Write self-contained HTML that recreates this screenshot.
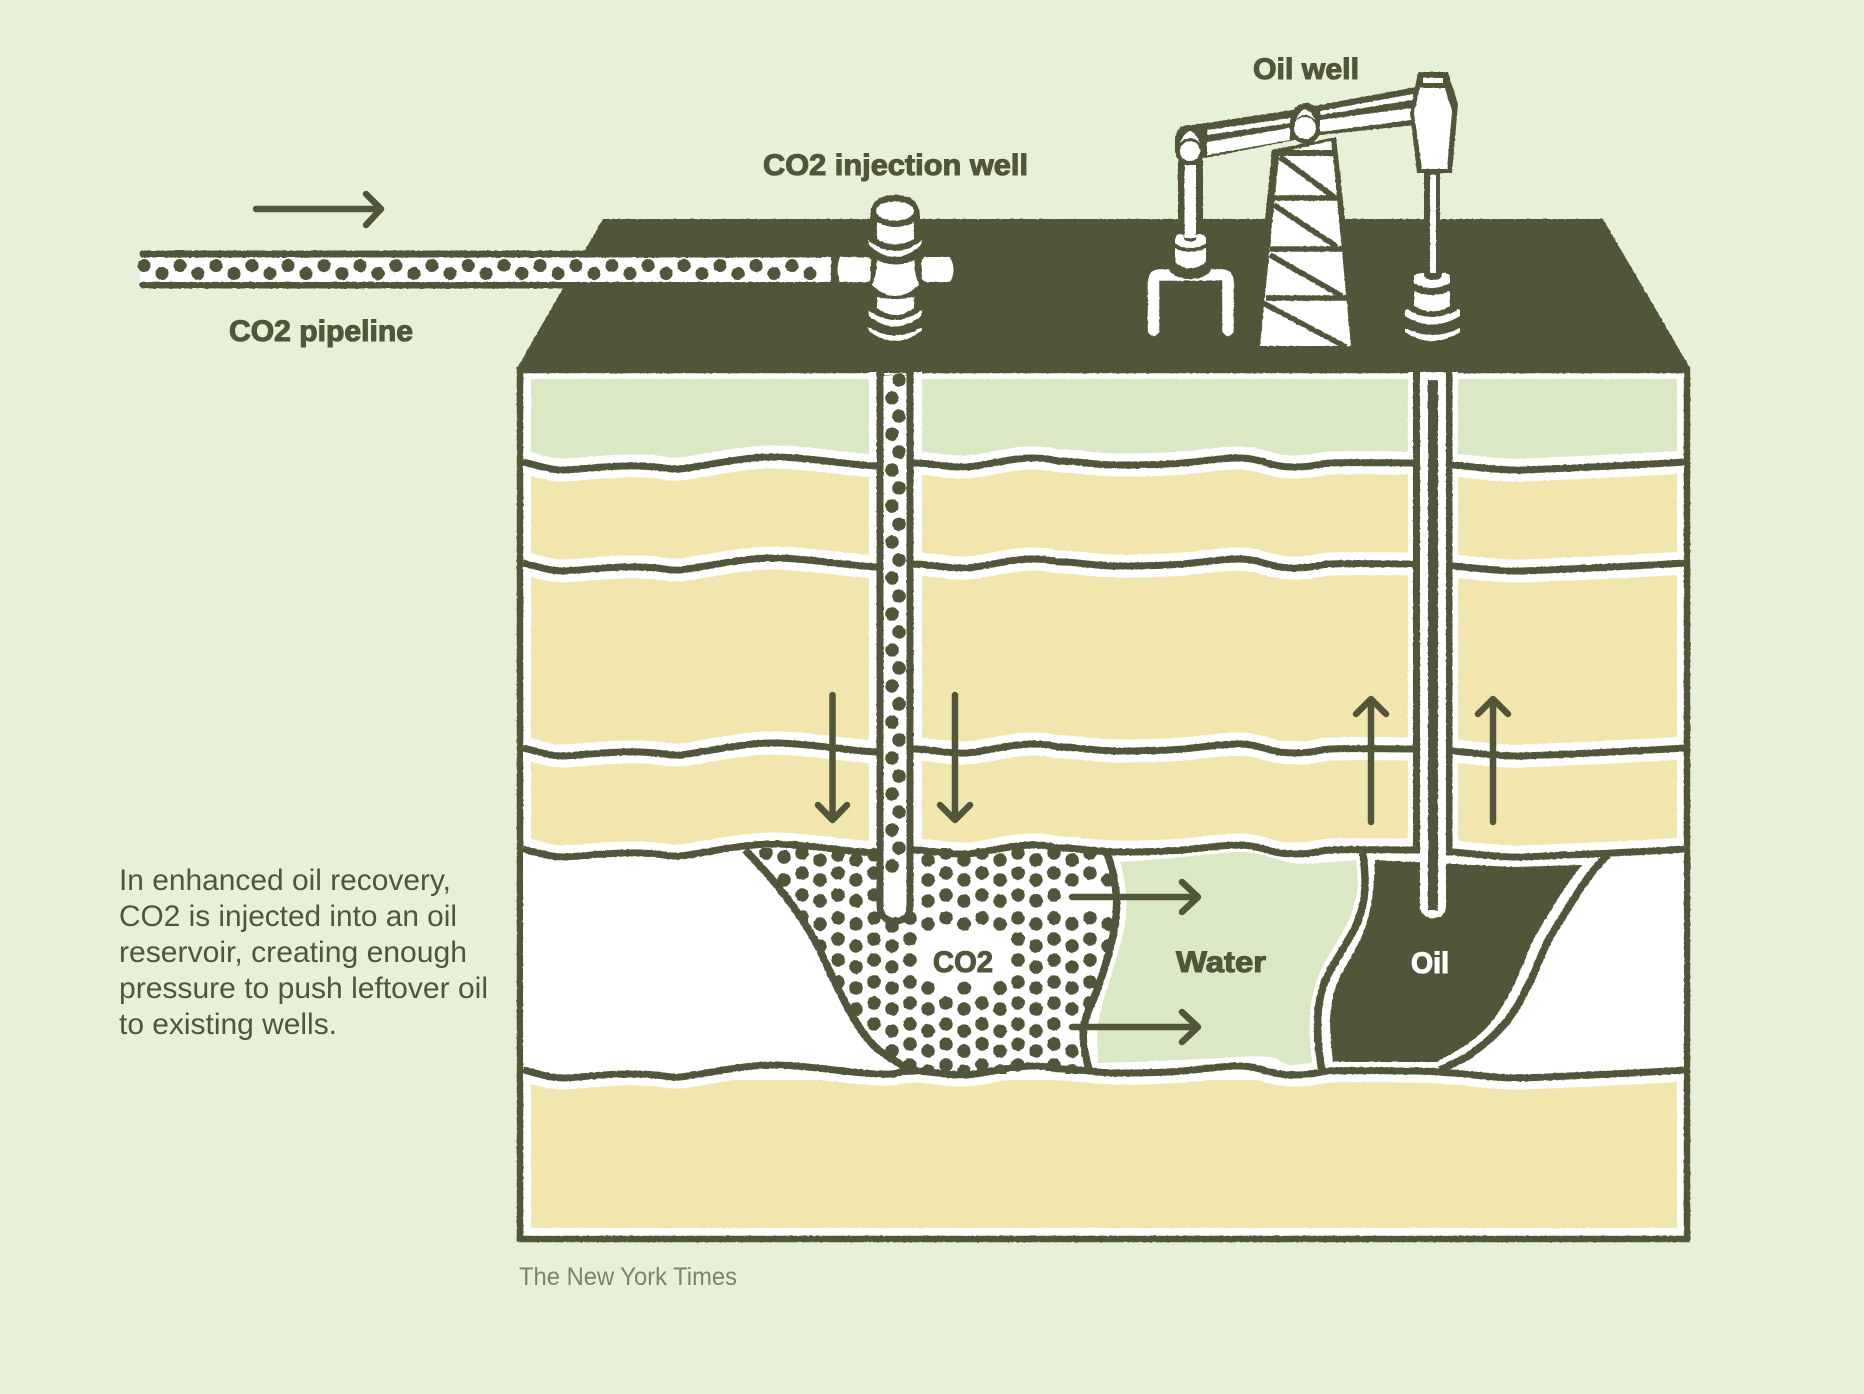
<!DOCTYPE html>
<html><head><meta charset="utf-8"><style>
html,body{margin:0;padding:0;background:#e7f1da}
svg{display:block}
text{font-family:"Liberation Sans",sans-serif}
.b{font-weight:bold;fill:#51563b;stroke:#51563b;stroke-width:1.1}
.t{font-size:30px;fill:#51563b}
</style></head><body>
<svg xmlns="http://www.w3.org/2000/svg" width="1864" height="1394" viewBox="0 0 1864 1394">
<defs>
<filter id="r" filterUnits="userSpaceOnUse" x="0" y="0" width="1864" height="1394">
<feTurbulence type="fractalNoise" baseFrequency=".3" numOctaves="2" seed="4"/>
<feDisplacementMap in="SourceGraphic" scale="1.8" xChannelSelector="R" yChannelSelector="G"/>
</filter>
<path id="w" d="M523 462C540 466 550 470 563 470S610 465 640 466S665 470 680 469S740 457 773 457S850 465 877 466S895 463 913 463S950 468 967 467S1010 458 1032 458S1050 461 1063 461S1095 465 1117 465S1160 465 1183 463S1220 458 1240 458S1270 467 1293 467S1315 464 1330 463S1390 463 1413 463S1435 464 1452 465S1500 471 1523 470S1640 465 1684 462"/>
<clipPath id="box"><rect x="523" y="372" width="1161" height="864"/></clipPath>
<clipPath id="co2"><path d="M745 848C770 875 790 900 807 927S830 977 853 1017S890 1055 912 1074L1090 1074C1082 1045 1082 1030 1090 1007S1110 950 1115 925S1115 875 1107 848Z"/></clipPath>
</defs>
<rect width="1864" height="1394" fill="#e7f1da"/>
<g filter="url(#r)">
<polygon points="603,219 1603,219 1690,368 1690,376 517,376 517,368" fill="#51563b"/>
<rect x="520" y="370" width="1167" height="869" fill="#fff" stroke="#51563b" stroke-width="6.5"/>
<rect x="520" y="368" width="1167" height="4.5" fill="#51563b"/>
<rect x="531" y="379" width="1146" height="849" fill="#f2e6af"/>
<path d="M531 379H1677V470H531Z" fill="#dbe8c5"/>
<g clip-path="url(#box)">
<path d="M523 849C540 853 550 857 563 857S610 852 640 853S665 857 680 856S740 844 773 844S850 852 877 853S895 850 913 850S950 855 967 854S1010 845 1032 845S1050 848 1063 848S1095 852 1117 852S1160 852 1183 850S1220 845 1240 845S1270 854 1293 854S1315 851 1330 850S1390 850 1413 850S1435 851 1452 852S1500 858 1523 857S1640 852 1684 849V1080H523Z" fill="#fff"/>
<g fill="none" stroke="#fff" stroke-width="23">
<use href="#w"/><use href="#w" y="101"/><use href="#w" y="286"/><use href="#w" y="387"/><use href="#w" y="608"/>
</g>
</g>
<rect x="869" y="372" width="53" height="480" fill="#fff"/>
<rect x="1408" y="372" width="50" height="485" fill="#fff"/>
<path d="M1120 862C1127 885 1128 905 1125 925C1120 950 1105 990 1097 1027L1098 1063C1140 1062 1180 1060 1237 1057S1270 1063 1293 1065L1312 1063C1308 1030 1308 995 1322 968C1340 935 1357 915 1358 880L1356 860C1330 862 1310 865 1293 863S1260 851 1237 852S1160 860 1120 862Z" fill="#dbe8c5"/>
<path d="M1375 860L1513 867L1582 865C1565 885 1548 915 1533 940C1522 965 1515 990 1493 1020C1478 1040 1455 1052 1437 1062L1333 1062C1330 1035 1327 1010 1337 983C1345 965 1360 945 1366 925C1372 905 1374 890 1375 860Z" fill="#51563b"/>
<g clip-path="url(#co2)">
<path fill="none" stroke="#51563b" stroke-width="13.5" stroke-linecap="round" d="M766 853h.01M784 857h.01M784 880h.01M802 853h.01M802 873h.01M802 895h.01M802 917h.01M820 860h.01M820 880h.01M820 901h.01M820 924h.01M820 946h.01M838 855h.01M838 873h.01M838 895h.01M838 918h.01M838 939h.01M838 960h.01M838 982h.01M856 860h.01M856 880h.01M856 901h.01M856 924h.01M856 946h.01M856 967h.01M856 988h.01M856 1009h.01M874 855h.01M874 873h.01M874 895h.01M874 918h.01M874 939h.01M874 960h.01M874 982h.01M874 1003h.01M874 1024h.01M892 926h.01M892 946h.01M892 967h.01M892 988h.01M892 1009h.01M892 1031h.01M892 1051h.01M910 918h.01M910 939h.01M910 960h.01M910 982h.01M910 1003h.01M910 1024h.01M910 1044h.01M910 1065h.01M928 860h.01M928 880h.01M928 901h.01M928 924h.01M928 988h.01M928 1009h.01M928 1031h.01M928 1051h.01M928 1071h.01M946 853h.01M946 873h.01M946 895h.01M946 918h.01M946 1003h.01M946 1024h.01M946 1044h.01M946 1065h.01M964 860h.01M964 880h.01M964 901h.01M964 924h.01M964 988h.01M964 1009h.01M964 1031h.01M964 1051h.01M964 1071h.01M982 853h.01M982 873h.01M982 895h.01M982 918h.01M982 1003h.01M982 1024h.01M982 1044h.01M982 1065h.01M1000 860h.01M1000 880h.01M1000 901h.01M1000 924h.01M1000 988h.01M1000 1009h.01M1000 1031h.01M1000 1051h.01M1000 1071h.01M1018 853h.01M1018 873h.01M1018 895h.01M1018 918h.01M1018 939h.01M1018 960h.01M1018 982h.01M1018 1003h.01M1018 1024h.01M1018 1044h.01M1018 1065h.01M1036 860h.01M1036 880h.01M1036 901h.01M1036 924h.01M1036 946h.01M1036 967h.01M1036 988h.01M1036 1009h.01M1036 1031h.01M1036 1051h.01M1054 853h.01M1054 873h.01M1054 895h.01M1054 918h.01M1054 939h.01M1054 960h.01M1054 982h.01M1054 1003h.01M1054 1024h.01M1054 1044h.01M1054 1065h.01M1072 860h.01M1072 880h.01M1072 924h.01M1072 946h.01M1072 967h.01M1072 988h.01M1072 1009h.01M1072 1051h.01M1072 1071h.01M1090 853h.01M1090 873h.01M1090 918h.01M1090 939h.01M1090 960h.01M1090 982h.01M1090 1003h.01M1108 880h.01M1108 924h.01M1108 946h.01"/>
</g>
<g fill="none" stroke="#51563b" stroke-width="7">
<use href="#w"/><use href="#w" y="101"/><use href="#w" y="286"/><use href="#w" y="387"/><use href="#w" y="608"/>
<path stroke-width="7.5" d="M745 850C770 875 790 900 807 927S830 977 853 1017S890 1055 912 1072"/>
<path stroke-width="7.5" d="M1107 853C1115 875 1119 900 1115 925S1100 985 1090 1007S1082 1045 1090 1073"/>
<path stroke-width="7.5" d="M1363 853C1366 880 1367 900 1357 923C1350 940 1335 960 1327 977C1316 1000 1315 1030 1322 1072"/>
<path stroke-width="7.5" d="M1608 855C1590 870 1570 905 1550 937C1540 955 1535 975 1527 987C1510 1025 1490 1040 1467 1057L1440 1070"/>
</g>
<!-- injection tube -->
<path d="M880 372V905Q880 921 895 921Q910 921 910 905V372Z" fill="#fff" stroke="#51563b" stroke-width="7"/>
<rect x="884" y="373" width="22" height="2" fill="#fff"/>
<path d="M899 380V884" stroke="#51563b" stroke-width="13.5" stroke-linecap="round" stroke-dasharray="0 36" fill="none"/>
<path d="M892 398V902" stroke="#51563b" stroke-width="13.5" stroke-linecap="round" stroke-dasharray="0 36" fill="none"/>
<!-- oil tube -->
<rect x="1413" y="372" width="7" height="481" fill="#51563b"/>
<rect x="1446" y="372" width="6.5" height="481" fill="#51563b"/>
<path d="M1420 372H1446V905Q1446 918 1433 918Q1420 918 1420 905Z" fill="#fff"/>
<path d="M1428 380H1438V910H1428Z" fill="#51563b"/>
<!-- pipeline -->
<path d="M143 254H810M143 285H810" stroke="#51563b" stroke-width="7" stroke-linecap="round" fill="none"/>
<rect x="140" y="257.5" width="691" height="24.5" fill="#fff"/>
<path d="M144 265.5H812" stroke="#51563b" stroke-width="13" stroke-linecap="round" stroke-dasharray="0 36" fill="none"/>
<path d="M162 273.5H812" stroke="#51563b" stroke-width="13" stroke-linecap="round" stroke-dasharray="0 36" fill="none"/>
<!-- injection wellhead -->
<path d="M870 218Q870 195 895 195Q920 195 920 218V240H870Z" fill="#51563b"/>
<ellipse cx="895" cy="211" rx="19" ry="9.5" fill="#fff"/>
<path d="M877 222Q895 232 914 222V239Q895 250 877 239Z" fill="#fff"/>
<path d="M868 240Q895 262 922 240L921 245Q895 269 869 245Z" fill="#fff"/>
<path d="M840 257H868Q873 259 870 270Q873 279 868 282H840Q835 270 840 257Z" fill="#fff"/>
<path d="M925 257H950Q957 270 950 282H925Q920 280 922 270Q920 259 925 257Z" fill="#fff"/>
<path d="M877 260Q895 269 915 260Q914 275 919 285Q895 307 872 285Q877 275 877 260Z" fill="#fff"/>
<path d="M825 257H831Q826 270 831 282H825Z" fill="#fff"/>
<path d="M877 297Q895 301 914 297V308Q895 322 877 308Z" fill="#fff"/>
<path d="M868 310Q895 330 922 310L921 316Q895 337 869 316Z" fill="#fff"/>
<path d="M868 327Q895 344 922 327L921 331Q895 351 869 331Z" fill="#fff"/>
<!-- pump -->
<path d="M1345 219L1336 137L1272 150L1265 219Z" fill="#51563b"/>
<polygon points="1292,150 1331,141 1332,150" fill="#fff"/>
<polygon points="1279,156 1333,156 1351,346 1260,346" fill="#fff"/>
<g stroke="#51563b" stroke-width="5.5" fill="none">
<path d="M1274 198H1338M1270 249H1342M1266 298H1347"/>
<path d="M1280 157L1334 197M1274 205L1337 247M1270 255L1342 296M1263 303L1346 347"/>
</g>
<polygon points="1180,127 1292,110 1416,87 1416,125 1320,135 1190,161" fill="#51563b"/>
<polygon points="1207,130 1290,118 1290,123 1207,135" fill="#fff"/>
<polygon points="1207,142 1290,128 1290,140 1207,155" fill="#fff"/>
<polygon points="1320,111 1413,94 1413,100 1320,115" fill="#fff"/>
<polygon points="1320,120 1411,108 1411,120 1320,132" fill="#fff"/>
<polygon points="1418,72 1448,72 1458,104 1452,173 1417,173 1410,113" fill="#51563b"/>
<polygon points="1420,88 1445,88 1452,112 1447,169 1422,169 1414,113" fill="#fff"/>
<rect x="1423" y="78" width="20" height="5" fill="#fff"/>
<rect x="1424" y="172" width="16" height="48" fill="#51563b"/>
<rect x="1430" y="175" width="6" height="98" fill="#fff"/>
<rect x="1178" y="160" width="25" height="62" fill="#51563b"/>
<rect x="1184.5" y="165" width="11.5" height="73" fill="#fff"/>
<rect x="1175" y="125" width="30" height="40" rx="14" fill="#51563b"/>
<circle cx="1190" cy="151" r="10" fill="#fff"/>
<path d="M1180 143Q1190 120 1200 143Q1190 133 1180 143Z" fill="#fff"/>
<rect x="1292" y="103" width="28" height="41" rx="14" fill="#51563b"/>
<circle cx="1305" cy="128" r="11" fill="#fff"/>
<path d="M1296 120Q1305 99 1315 120Q1305 110 1296 120Z" fill="#fff"/>
<path d="M1153.5 330V282Q1153.5 275 1160 275H1222Q1228 275 1228 282V330" stroke="#fff" stroke-width="11.5" stroke-linecap="round" fill="none"/>
<ellipse cx="1190" cy="268" rx="21" ry="11" fill="#51563b"/>
<path d="M1175 248Q1190 256 1206 248V262Q1190 275 1175 262Z" fill="#fff"/>
<path d="M1175 238Q1178 233 1184 235V240Q1190 243 1196 240V235Q1203 233 1206 238V244Q1190 252 1175 244Z" fill="#fff"/>
<path d="M1414 277Q1414 273 1424 273Q1424 280 1433 280Q1442 280 1442 273Q1450 273 1450 277V283Q1432 293 1414 283Z" fill="#fff"/>
<path d="M1414 291Q1432 299 1450 291V306Q1432 317 1414 306Z" fill="#fff"/>
<path d="M1405 310Q1408 308 1410 311Q1432 323 1456 311Q1458 308 1460 310V316Q1432 333 1405 316Z" fill="#fff"/>
<path d="M1405 328Q1432 342 1460 328V332Q1432 350 1405 332Z" fill="#fff"/>
</g>
<!-- arrows -->
<g fill="none" stroke="#51563b" stroke-width="6.5" stroke-linecap="round" stroke-linejoin="round">
<path d="M256 209H380M366 194L381 209L366 225"/>
<path d="M832.5 695V818M818 805L832.5 820L847 805"/>
<path d="M955 695V818M940 805L955 820L970 805"/>
<path d="M1371 822V700M1356 714L1371 699L1386 714"/>
<path d="M1493 822V700M1478 714L1493 699L1508 714"/>
<path d="M1072 897H1197M1182 882L1198 897L1182 912"/>
<path d="M1072 1027H1197M1182 1012L1198 1027L1182 1042"/>
</g>
<text class="b" x="763" y="175" font-size="30" textLength="265" lengthAdjust="spacingAndGlyphs">CO2 injection well</text>
<text class="b" x="1253" y="79" font-size="30" textLength="106" lengthAdjust="spacingAndGlyphs">Oil well</text>
<text class="b" x="229" y="341" font-size="30" textLength="184" lengthAdjust="spacingAndGlyphs">CO2 pipeline</text>
<text class="b" x="933" y="972" font-size="30" textLength="60" lengthAdjust="spacingAndGlyphs">CO2</text>
<text class="b" x="1176" y="972" font-size="30" textLength="90" lengthAdjust="spacingAndGlyphs">Water</text>
<text class="b" x="1411" y="973" font-size="30" textLength="38" lengthAdjust="spacingAndGlyphs" style="fill:#fff;stroke:#fff">Oil</text>
<text class="t" x="119" y="890" textLength="332" lengthAdjust="spacingAndGlyphs">In enhanced oil recovery,</text>
<text class="t" x="119" y="926" textLength="338" lengthAdjust="spacingAndGlyphs">CO2 is injected into an oil</text>
<text class="t" x="119" y="962" textLength="348" lengthAdjust="spacingAndGlyphs">reservoir, creating enough</text>
<text class="t" x="119" y="998" textLength="369" lengthAdjust="spacingAndGlyphs">pressure to push leftover oil</text>
<text class="t" x="119" y="1034" textLength="218" lengthAdjust="spacingAndGlyphs">to existing wells.</text>
<text x="519" y="1285" font-size="25" fill="#7b8469" textLength="218" lengthAdjust="spacingAndGlyphs">The New York Times</text>
</svg>
</body></html>
